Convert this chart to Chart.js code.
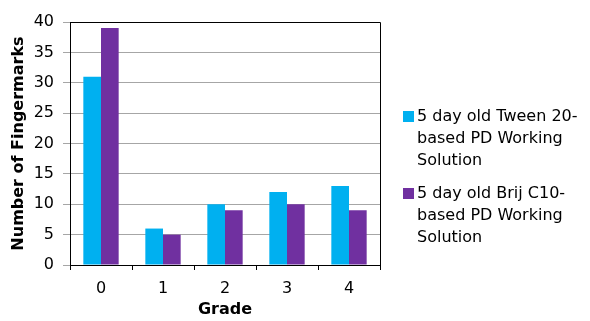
<!DOCTYPE html>
<html>
<head>
<meta charset="utf-8">
<script src="https://cdn.jsdelivr.net/npm/chart.js@4.4.0/dist/chart.umd.min.js"></script>
<style>
  html, body { margin: 0; padding: 0; background: #fff; }
  #wrap { position: relative; width: 590px; height: 321px; }
  #legend {
    position: absolute; left: 403px; top: 105px;
    font-family: "DejaVu Sans", sans-serif;
    font-size: 16px; line-height: 22px; color: #000;
  }
  .item { display: flex; align-items: flex-start; margin-bottom: 11px; }
  .sw { width: 11px; height: 11px; margin-top: 6px; margin-right: 3px; flex: none; }
  .txt { width: 182px; }
</style>
</head>
<body>
<div id="wrap">
  <canvas id="c" width="590" height="321"></canvas>
  <div id="legend"></div>
</div>
<script>
// Grade categories and fingermark counts per working solution
const grades = ['0', '1', '2', '3', '4'];
const tween20Counts = [31, 6, 10, 12, 13];
const brijC10Counts = [39, 5, 9, 10, 9];
const seriesNames = [
  '5 day old Tween 20-based PD Working Solution',
  '5 day old Brij C10-based PD Working Solution'
];
const seriesColors = ['#00B0F0', '#7030A0'];
const yMin = 0, yMax = 40, yStep = 5;

const FONT = '"DejaVu Sans", sans-serif';

// Black frame along the top and right edges of the plot area
const framePlugin = {
  id: 'frame',
  afterDraw(chart) {
    const { ctx, chartArea: a } = chart;
    ctx.save();
    ctx.strokeStyle = '#000';
    ctx.lineWidth = 1;
    ctx.beginPath();
    ctx.moveTo(a.left, a.top + 0.5);
    ctx.lineTo(a.right + 0.5, a.top + 0.5);
    ctx.lineTo(a.right + 0.5, a.bottom);
    ctx.stroke();
    ctx.restore();
  }
};

const chart = new Chart(document.getElementById('c'), {
  type: 'bar',
  data: {
    labels: grades,
    datasets: [
      { label: seriesNames[0], data: tween20Counts, backgroundColor: seriesColors[0] },
      { label: seriesNames[1], data: brijC10Counts, backgroundColor: seriesColors[1] }
    ]
  },
  options: {
    responsive: false,
    animation: false,
    devicePixelRatio: 1,
    layout: { padding: { left: 0, right: 210, top: 22, bottom: 0 } },
    datasets: { bar: { categoryPercentage: 0.57, barPercentage: 1.0, borderWidth: 0 } },
    plugins: { legend: { display: false }, tooltip: { enabled: false } },
    scales: {
      x: {
        afterFit(s) { s.height = 56; },
        border: { display: true, color: '#000', width: 1 },
        grid: { offset: true, drawOnChartArea: false, drawTicks: true, tickLength: 5, color: '#000' },
        ticks: { color: '#000', font: { family: FONT, size: 16 }, padding: 9 },
        title: {
          display: true, text: 'Grade', color: '#000',
          font: { family: FONT, size: 16, weight: 'bold' }, padding: { top: 0, bottom: 2 }
        }
      },
      y: {
        min: yMin, max: yMax,
        afterFit(s) { s.width = 70; },
        border: { display: true, color: '#000', width: 1 },
        grid: { color: '#a6a6a6', drawTicks: true, tickLength: 7 },
        ticks: { stepSize: yStep, color: '#000', font: { family: FONT, size: 16 }, padding: 9 },
        title: {
          display: true, text: 'Number of Fingermarks', color: '#000',
          font: { family: FONT, size: 16, weight: 'bold' }, padding: { top: 9, bottom: 0 }
        }
      }
    }
  },
  plugins: [framePlugin]
});

// Legend built from the same series names and colours
const legend = document.getElementById('legend');
chart.data.datasets.forEach(ds => {
  const item = document.createElement('div');
  item.className = 'item';
  const sw = document.createElement('div');
  sw.className = 'sw';
  sw.style.background = ds.backgroundColor;
  const txt = document.createElement('div');
  txt.className = 'txt';
  txt.textContent = ds.label;
  item.appendChild(sw);
  item.appendChild(txt);
  legend.appendChild(item);
});
</script>
</body>
</html>
